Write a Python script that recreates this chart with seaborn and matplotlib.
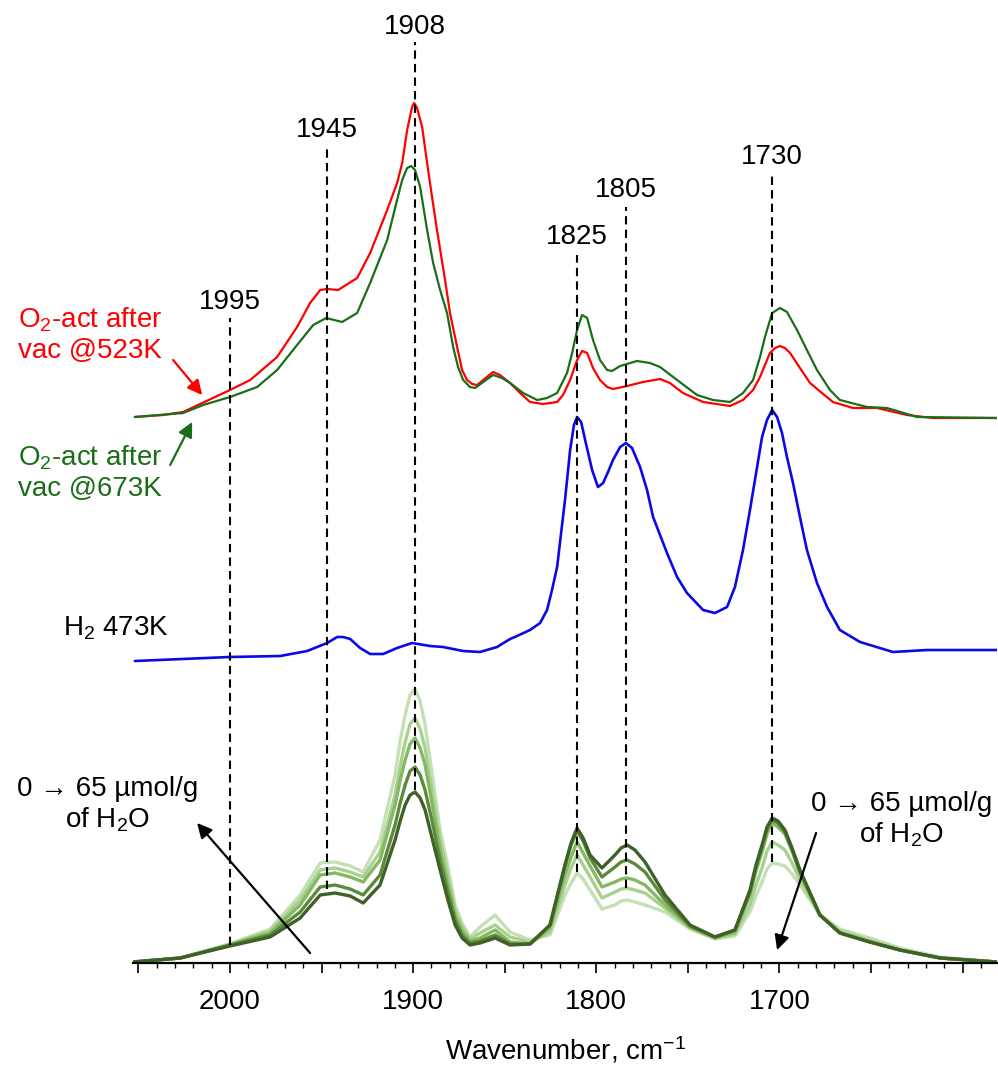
import numpy as np
import pandas as pd
import matplotlib
matplotlib.use("Agg")
import matplotlib.pyplot as plt
import seaborn as sns
from matplotlib.ticker import MultipleLocator, FuncFormatter

# ---------------- data (wavenumber, cm-1 ; absorbance, offset a.u.) ----------------
wn_red = [2052, 2036.5, 2025.6, 2015.2, 2000, 1989, 1974.3, 1963.4, 1956.3, 1950.8, 1947, 1941,
          1930.6, 1923.5, 1914.2, 1908.8, 1906.0, 1903.3, 1900.6, 1899.5, 1897.9, 1895.1, 1892.4,
          1889.7, 1887.0, 1882.6, 1879.9, 1876.0, 1873.3, 1870.6, 1867.8, 1865.1, 1861.8, 1856.4,
          1852.6, 1847.1, 1841.6, 1836.2, 1829.1, 1821.4, 1818.2, 1814.3, 1810.5, 1807.8, 1805.0,
          1801.8, 1798.0, 1794.1, 1790.9, 1783.2, 1774.5, 1765.2, 1759.8, 1752.7, 1741.7, 1727.0,
          1719.9, 1714.4, 1710.6, 1707.9, 1705.2, 1702.4, 1699.7, 1697.0, 1694.2, 1688.8, 1683.3,
          1676.8, 1670.8, 1659.8, 1646.7, 1630.4, 1616.2, 1581.2]
abs_red = [546, 548, 551, 560, 573, 583, 606, 636, 660, 673, 674, 673,
           685, 710, 753, 780, 800, 833, 856, 860, 855, 836, 800,
           766, 733, 683, 650, 616, 593, 583, 579, 578, 583, 591,
           588, 580, 570, 561, 559, 561, 568, 583, 603, 612, 610,
           595, 583, 576, 574, 577, 581, 584, 580, 570, 561, 557,
           563, 573, 586, 598, 610, 615, 617, 615, 610, 595, 580,
           570, 561, 555, 555, 548, 545, 545]

wn_green = [2052, 2025.6, 2014.7, 2000, 1985.2, 1974.3, 1963.4, 1954.6, 1947.5, 1938.8, 1930.6,
            1923.5, 1914.2, 1908.8, 1906.0, 1903.3, 1901.1, 1899.0, 1896.2, 1892.4, 1889.1, 1885.3,
            1881.5, 1878.2, 1875.5, 1872.7, 1869.0, 1866.2, 1861.8, 1856.4, 1851.5, 1847.1, 1840.0,
            1832.3, 1826.9, 1821.4, 1816.0, 1813.2, 1810.5, 1807.8, 1805.0, 1801.8, 1798.0, 1794.1,
            1791.4, 1787.0, 1777.8, 1770.7, 1765.2, 1755.9, 1745.0, 1736.3, 1727.0, 1719.9, 1714.4,
            1710.6, 1707.9, 1704.0, 1699.7, 1695.9, 1690.4, 1685.0, 1679.5, 1672.4, 1667.0, 1652.2,
            1641.3, 1624.9, 1581.2]
abs_green = [546, 550, 558, 566, 576, 593, 618, 638, 645, 641, 650,
             680, 723, 763, 783, 795, 797, 793, 776, 733, 700, 673,
             650, 616, 596, 583, 576, 575, 581, 588, 585, 580, 570,
             563, 565, 570, 590, 610, 633, 648, 645, 623, 603, 593,
             592, 597, 602, 600, 596, 583, 568, 563, 561, 570, 583,
             606, 626, 650, 655, 651, 633, 613, 593, 573, 563, 556,
             555, 546, 545]

wn_blue = [2052, 2000, 1972.6, 1957.9, 1947, 1941.5, 1938.3, 1934.4, 1929.0, 1923.5, 1916.4, 1908.8,
           1900.6, 1890.8, 1883.7, 1872.7, 1863.5, 1854.2, 1847.1, 1843.3, 1836.2, 1830.7, 1826.9,
           1824.2, 1821.4, 1818.2, 1817.1, 1814.3, 1812.2, 1810.5, 1808.3, 1806.1, 1802.3, 1799.1,
           1796.3, 1793.6, 1790.9, 1787.0, 1783.8, 1780.5, 1776.1, 1772.3, 1769.0, 1761.4, 1755.9,
           1750.5, 1741.7, 1735.2, 1728.6, 1724.3, 1719.9, 1716.1, 1712.2, 1709.5, 1706.8, 1704.0,
           1701.3, 1698.6, 1695.9, 1692.6, 1688.8, 1685.0, 1679.5, 1674.0, 1667.0, 1656.0, 1638.0,
           1619.4, 1581.2]
abs_blue = [302, 306, 307, 312, 320, 326, 326, 324, 315, 309, 309, 315,
            320, 317, 316, 312, 311, 316, 324, 327, 333, 340, 353,
            373, 396, 446, 463, 513, 538, 546, 541, 523, 493, 476,
            480, 491, 503, 516, 520, 515, 496, 473, 446, 410, 386,
            370, 353, 350, 356, 376, 413, 453, 496, 526, 543, 553,
            546, 530, 506, 480, 446, 413, 380, 356, 333, 321, 311,
            313, 313]

# H2O adsorption series, 0 -> 65 umol/g
wn_h2o = [2053, 2027.2, 2000, 1978.1, 1961.7, 1950.8, 1942.6, 1934.4, 1927.3, 1918.1,
          1909.9, 1907.1, 1904.4, 1901.7, 1899.0, 1896.2, 1893.5, 1889.7, 1885.3, 1880.9,
          1877.1, 1873.3, 1869.0, 1863.5, 1855.3, 1847.1, 1836.2, 1825.3, 1817.1, 1813.8,
          1810.5, 1807.2, 1803.4, 1796.9, 1789.8, 1786.5, 1783.2, 1778.9, 1773.4, 1762.5,
          1748.8, 1735.2, 1724.3, 1716.1, 1712.8, 1709.5, 1706.8, 1704.0, 1700.8, 1697.0,
          1693.1, 1688.8, 1677.9, 1667.0, 1650.6, 1634.2, 1612.3, 1581.2]
h2o_0 = [1, 5, 17, 26, 45, 68, 70, 67, 60, 78,
         123, 142, 158, 168, 171, 165, 153, 125, 93, 62,
         38, 25, 18, 20, 25, 18, 19, 38, 98, 120,
         135, 125, 108, 95, 108, 115, 118, 113, 101, 68,
         38, 26, 33, 73, 98, 118, 136, 145, 142, 133,
         115, 93, 48, 30, 21, 13, 5, 1]
h2o_1 = [1, 5, 18, 28, 51, 76, 78, 74, 68, 88,
         138, 160, 178, 192, 196, 188, 173, 142, 103, 70,
         43, 28, 20, 22, 28, 19, 19, 38, 98, 118,
         132, 122, 105, 86, 96, 101, 103, 99, 91, 63,
         37, 26, 33, 71, 96, 116, 134, 143, 140, 131,
         113, 91, 48, 30, 21, 13, 5, 1]
h2o_2 = [1, 5, 18, 30, 58, 88, 90, 86, 81, 103,
         158, 183, 203, 219, 225, 215, 198, 160, 113, 78,
         48, 32, 22, 25, 33, 21, 19, 35, 88, 106,
         121, 110, 97, 76, 81, 84, 85, 83, 78, 58,
         36, 25, 31, 68, 92, 111, 129, 140, 136, 129,
         112, 90, 48, 30, 21, 13, 5, 1]
h2o_3 = [1, 5, 19, 32, 63, 93, 95, 91, 86, 111,
         168, 197, 221, 239, 245, 234, 215, 172, 123, 86,
         53, 36, 24, 30, 38, 26, 21, 31, 78, 95,
         108, 98, 86, 65, 71, 74, 75, 73, 70, 55,
         35, 25, 29, 58, 78, 95, 112, 121, 118, 113,
         100, 83, 48, 32, 23, 13, 5, 1]
h2o_4 = [1, 5, 19, 34, 68, 100, 101, 97, 91, 123,
         188, 222, 248, 268, 274, 262, 238, 190, 133, 95,
         58, 40, 26, 36, 48, 31, 23, 28, 68, 80,
         90, 84, 73, 54, 58, 62, 63, 61, 58, 51,
         34, 24, 27, 51, 67, 81, 94, 100, 99, 97,
         89, 78, 48, 34, 25, 15, 6, 1]
h2o_loadings = ["0", "1", "2", "3", "65"]

# marked band positions (as drawn on the axis) and their labels
peak_pos = [2000, 1947, 1899, 1810.5, 1783.8, 1704]
peak_labels = ["1995", "1945", "1908", "1825", "1805", "1730"]
peak_top = [645, 816, 921, 708, 756, 788]
peak_bottom = [18, 74, 173, 91, 75, 101]
peak_label_y = [661, 833, 936, 726, 773, 806]

tick_labels = [2000, 1900, 1800, 1700]

# ---------------- style ----------------
sns.set_theme(style="white")
plt.rcParams["font.family"] = ["Liberation Sans", "DejaVu Sans"]
plt.rcParams["mathtext.fontset"] = "custom"
plt.rcParams["mathtext.rm"] = "Liberation Sans"
plt.rcParams["mathtext.default"] = "regular"

RED = "#ff0000"
GREEN = "#1a6e1a"
BLUE = "#0a0ae6"
h2o_colors = ["#3f6128", "#5b8a3a", "#85b862", "#a9d18e", "#c5e0b4"]

fig = plt.figure(figsize=(9.98, 10.66), dpi=100)
ax = fig.add_axes([133 / 998, 103 / 1066, 864 / 998, 963 / 1066])

# H2O series (lightest drawn first, darkest on top)
h2o_sets = [h2o_0, h2o_1, h2o_2, h2o_3, h2o_4]
df_h2o = pd.concat([pd.DataFrame({"wn": wn_h2o, "A": vals, "loading": lab})
                    for vals, lab in zip(h2o_sets, h2o_loadings)], ignore_index=True)
order = h2o_loadings[::-1]
pal = dict(zip(h2o_loadings, h2o_colors))
sns.lineplot(data=df_h2o, x="wn", y="A", hue="loading", hue_order=order, palette=pal,
             estimator=None, errorbar=None, legend=False, lw=2.4, ax=ax)

sns.lineplot(x=wn_blue, y=abs_blue, color=BLUE, lw=1.9, estimator=None, errorbar=None, ax=ax)
sns.lineplot(x=wn_red, y=abs_red, color=RED, lw=1.6, estimator=None, errorbar=None, ax=ax)
sns.lineplot(x=wn_green, y=abs_green, color=GREEN, lw=1.6, estimator=None, errorbar=None, ax=ax)
for ln in ax.get_lines():
    ln.set_solid_joinstyle("round")

# dashed band markers
ax.vlines(peak_pos, peak_bottom, peak_top, colors="black", linestyles=(0, (4, 2.5)),
          lw=1.5, zorder=5)
for p, lab, yl in zip(peak_pos, peak_labels, peak_label_y):
    ax.text(p, yl, lab, ha="center", va="center", fontsize=20, color="black")

# axes
ax.set_xlim(2053, 1581.2)
ax.set_ylim(0, 963)
for s in ["left", "top", "right"]:
    ax.spines[s].set_visible(False)
ax.spines["bottom"].set_color("black")
ax.spines["bottom"].set_linewidth(1.6)
ax.set_yticks([])
ax.set_ylabel("")
ax.xaxis.set_major_locator(MultipleLocator(50))
ax.xaxis.set_minor_locator(MultipleLocator(10))
ax.xaxis.set_major_formatter(FuncFormatter(
    lambda v, p: f"{int(round(v))}" if int(round(v)) in tick_labels else ""))
ax.tick_params(axis="x", which="both", bottom=True, direction="out", color="black")
ax.tick_params(axis="x", which="major", length=7, width=1.2, labelsize=20, pad=12, labelcolor="black")
ax.tick_params(axis="x", which="minor", length=3.5, width=1.0)
ax.set_xlabel("Wavenumber, cm$^{-1}$", fontsize=20, labelpad=14, color="black")

# text labels
ax.text(2076.4, 628, "O$_2$-act after\nvac @523K", color=RED, ha="center", va="center", fontsize=20)
ax.text(2076.4, 490, "O$_2$-act after\nvac @673K", color=GREEN, ha="center", va="center", fontsize=20)
ax.text(2062.2, 335, "H$_2$ 473K", color="black", ha="center", va="center", fontsize=20)
ax.text(2067.1, 158, "0 \u2192 65 \u00b5mol/g\nof H$_2$O", color="black", ha="center", va="center",
        fontsize=20)
ax.text(1633.1, 143, "0 \u2192 65 \u00b5mol/g\nof H$_2$O", color="black", ha="center", va="center",
        fontsize=20)

# arrows
arrow_kw = dict(arrowstyle="-|>", lw=1.6, mutation_scale=22, shrinkA=0, shrinkB=0)
ax.annotate("", xy=(2015.2, 568), xytext=(2031.1, 603), arrowprops=dict(color=RED, **arrow_kw))
ax.annotate("", xy=(2020.7, 541), xytext=(2032.7, 498), arrowprops=dict(color=GREEN, **arrow_kw))
ax.annotate("", xy=(2018.0, 140), xytext=(1956.3, 10), arrowprops=dict(color="black", **arrow_kw))
ax.annotate("", xy=(1701.3, 13), xytext=(1680.0, 130), arrowprops=dict(color="black", **arrow_kw))

fig.savefig("out.png", dpi=100)
